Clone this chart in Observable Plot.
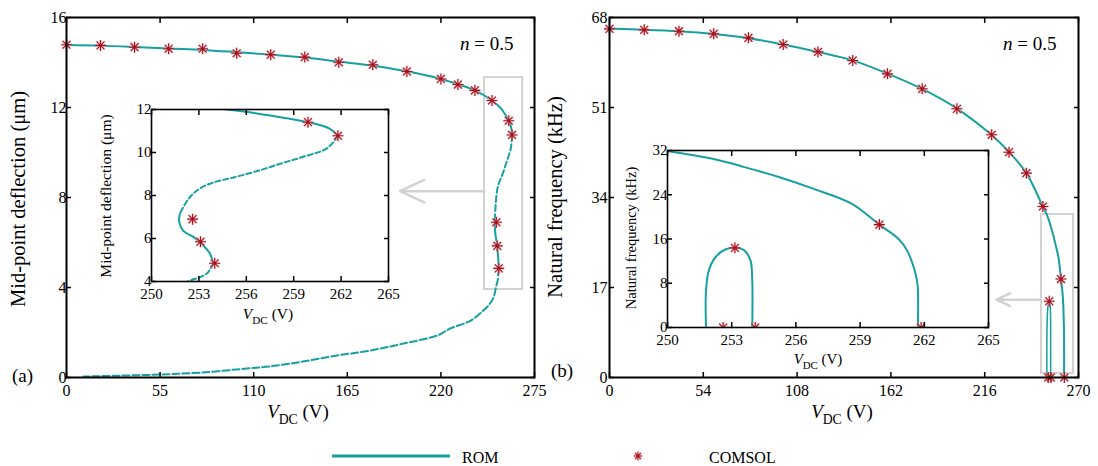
<!DOCTYPE html>
<html><head><meta charset="utf-8">
<script src="https://cdn.jsdelivr.net/npm/d3@7"></script>
<script src="https://cdn.jsdelivr.net/npm/@observablehq/plot@0.6"></script>
<style>
body{margin:0;background:#fff;}
#root{position:relative;width:1098px;height:466px;overflow:hidden;background:#fff;}
#root svg{position:absolute;}
</style></head><body><div id="root"></div>
<script>
// ---------- Panel (a): mid-point deflection (µm) vs V_DC (V) ----------
const romA_stable1_V = [0, 20, 40, 60, 80, 100, 120, 140, 160, 180, 200, 220, 230, 240, 250, 254.8, 256.2, 257.5, 259.9, 261.3, 261.8];
const romA_stable1_W = [14.78, 14.75, 14.69, 14.62, 14.56, 14.46, 14.35, 14.22, 14.04, 13.86, 13.61, 13.27, 13.03, 12.76, 12.31, 12.0, 11.87, 11.72, 11.41, 11.1, 10.76];
const romA_unstable1_V = [261.8, 261.1, 259.6, 258.2, 256.8, 255.2, 253.9, 253.0, 252.3, 251.8];
const romA_unstable1_W = [10.76, 10.19, 9.8, 9.49, 9.16, 8.84, 8.6, 8.3, 7.8, 7.16];
const romA_stable2_V = [251.8, 251.75, 252.0, 252.7, 253.1, 253.7, 253.9];
const romA_stable2_W = [7.16, 6.8, 6.37, 6.05, 5.8, 5.3, 4.84];
const romA_unstable2_V = [253.9, 253.5, 252.3, 251.0, 248.5, 245, 237.5, 225.6, 218, 198, 178.6, 159, 139, 120, 106, 79, 54, 30, 10];
const romA_unstable2_W = [4.84, 4.37, 4.0, 3.56, 3.25, 2.98, 2.53, 2.18, 1.87, 1.51, 1.2, 0.98, 0.71, 0.5, 0.4, 0.22, 0.13, 0.08, 0.04];
const comsolA_V = [0, 20, 40, 60, 80, 100, 120, 140, 160, 180, 200, 220, 230, 240, 250, 259.9, 261.8, 252.6, 253.1, 254.0];
const comsolA_W = [14.79, 14.76, 14.68, 14.61, 14.61, 14.41, 14.35, 14.24, 14.01, 13.9, 13.6, 13.27, 13.02, 12.76, 12.31, 11.41, 10.78, 6.9, 5.85, 4.85];

// ---------- Panel (b): natural frequency (kHz) vs V_DC (V) ----------
const romB_upper_V = [0, 20, 40, 60, 80, 100, 120, 140, 160, 180, 200, 220, 230, 240, 250, 252.1, 253.6, 255.2, 256.8, 258.6, 259.9, 260.8, 261.2, 261.55, 261.68, 261.7];
const romB_upper_F = [65.9, 65.7, 65.4, 64.9, 64.1, 62.9, 61.5, 59.9, 57.4, 54.5, 50.8, 45.8, 42.6, 38.6, 31.9, 30.5, 29.0, 27.2, 25.1, 22.4, 18.6, 16.0, 13.9, 10.3, 7.9, 0];
const romB_arch_V = [251.8, 251.8, 251.93, 252.24, 252.7, 253.15, 253.6, 253.88, 253.96, 253.96];
const romB_arch_F = [0, 6.7, 10.3, 12.7, 14.1, 14.4, 13.9, 12.1, 8.5, 0];
const comsolB_V = [0, 20, 40, 60, 80, 100, 120, 140, 160, 180, 200, 220, 230, 240, 249.5, 259.9, 253.15, 252.6, 254.1, 261.85];
const comsolB_F = [65.86, 65.67, 65.41, 64.91, 64.16, 62.9, 61.5, 59.88, 57.36, 54.53, 50.75, 45.84, 42.56, 38.6, 32.3, 18.6, 14.4, 0, 0, 0];

// ---------- ticks ----------
const ticksA_x = [0, 55, 110, 165, 220, 275];
const ticksA_y = [0, 4, 8, 12, 16];
const ticksB_x = [0, 54, 108, 162, 216, 270];
const ticksB_y = [0, 17, 34, 51, 68];
const ticksInset_x = [250, 253, 256, 259, 262, 265];
const ticksInsetA_y = [4, 6, 8, 10, 12];
const ticksInsetB_y = [0, 8, 16, 24, 32];

// ---------- zoom-box annotations (data coords) ----------
const boxA = [{x1: 245.6, x2: 268, y1: 3.91, y2: 13.33}];
const arrowA = [{x1: 245.6, y1: 8.28, x2: 196, y2: 8.28}];
const boxB = [{x1: 248.7, x2: 267.1, y1: 0.76, y2: 30.8}];
const arrowB = [{x1: 248.7, y1: 14.7, x2: 222.8, y2: 14.7}];

const TEAL = "#18a0a0", RED = "#a8101c", HALO = "#eaa8ad", GRAY = "#d2d2d0";
const FONT = "'Liberation Serif','Times New Roman',serif";
const zip = (xs, ys) => xs.map((x, i) => ({x, y: ys[i]}));

const starSymbol = {draw(ctx, size) {
  const r = Math.sqrt(size / Math.PI), d = r * 0.72;
  ctx.moveTo(-r, 0); ctx.lineTo(r, 0);
  ctx.moveTo(0, -r); ctx.lineTo(0, r);
  ctx.moveTo(-d, -d); ctx.lineTo(d, d);
  ctx.moveTo(-d, d); ctx.lineTo(d, -d);
}};

function stars(data, clip) {
  return [
    Plot.dot(data, {x: "x", y: "y", symbol: starSymbol, r: 5.5, stroke: HALO, strokeWidth: 2.6, strokeOpacity: 0.5, clip}),
    Plot.dot(data, {x: "x", y: "y", symbol: starSymbol, r: 5.5, stroke: RED, strokeWidth: 1.1, clip})
  ];
}
const CURVE = "catmull-rom";
function solid(data, clip, w = 2) { return Plot.line(data, {x: "x", y: "y", stroke: TEAL, strokeWidth: w, curve: CURVE, clip}); }
function dashed(data, clip, w = 2, dash = "6,3") { return Plot.line(data, {x: "x", y: "y", stroke: TEAL, strokeWidth: w, strokeDasharray: dash, curve: CURVE, clip}); }

function axes(xt, yt, fs, yPad, frameW) {
  return [
    Plot.frame({stroke: "#000", strokeWidth: frameW}),
    Plot.axisX(xt, {anchor: "bottom", tickSize: -5, tickPadding: 12, label: null, fontSize: fs, strokeWidth: 1.5}),
    Plot.axisX(xt, {anchor: "top", tickSize: -5, tickFormat: () => "", label: null, strokeWidth: 1.5}),
    Plot.axisY(yt, {anchor: "left", tickSize: -5, tickPadding: yPad + 5, label: null, fontSize: fs, strokeWidth: 1.5}),
    Plot.axisY(yt, {anchor: "right", tickSize: -5, tickFormat: () => "", label: null, strokeWidth: 1.5})
  ];
}
const style = fs => ({fontFamily: FONT, fontSize: fs + "px", background: "transparent", overflow: "visible", color: "#000"});

const root = document.getElementById("root");
function place(svg, left, top) { svg.style.left = left + "px"; svg.style.top = top + "px"; root.appendChild(svg); }

// ---- main (a)
const plotA = Plot.plot({
  width: 549, height: 430, marginLeft: 66, marginRight: 15, marginTop: 17, marginBottom: 53,
  style: style(16), x: {domain: [0, 275]}, y: {domain: [0, 16]},
  marks: [
    Plot.rect(boxA, {x1: "x1", x2: "x2", y1: "y1", y2: "y2", stroke: GRAY, strokeWidth: 2, fill: "none"}),
    Plot.arrow(arrowA, {x1: "x1", y1: "y1", x2: "x2", y2: "y2", stroke: GRAY, strokeWidth: 2.5, headLength: 16, headAngle: 50}),
    solid(zip(romA_stable1_V, romA_stable1_W)),
    dashed(zip(romA_unstable1_V, romA_unstable1_W)),
    solid(zip(romA_stable2_V, romA_stable2_W)),
    dashed(zip(romA_unstable2_V, romA_unstable2_W), false, 2, "7,3"),
    ...stars(zip(comsolA_V, comsolA_W)),
    ...axes(ticksA_x, ticksA_y, 16, 0, 2)
  ]
});
place(plotA, 0, 0);

// ---- main (b)
const plotB = Plot.plot({
  width: 549, height: 430, marginLeft: 60, marginRight: 20, marginTop: 17, marginBottom: 53,
  style: style(16), x: {domain: [0, 270]}, y: {domain: [0, 68]},
  marks: [
    Plot.rect(boxB, {x1: "x1", x2: "x2", y1: "y1", y2: "y2", stroke: GRAY, strokeWidth: 2, fill: "none"}),
    Plot.arrow(arrowB, {x1: "x1", y1: "y1", x2: "x2", y2: "y2", stroke: GRAY, strokeWidth: 2.5, headLength: 16, headAngle: 50}),
    solid(zip(romB_upper_V, romB_upper_F)),
    solid(zip(romB_arch_V, romB_arch_F), false, 1.5),
    ...stars(zip(comsolB_V, comsolB_F)),
    ...axes(ticksB_x, ticksB_y, 16, 2, 2)
  ]
});
place(plotB, 549, 0);

// ---- inset (a)
const insetA = Plot.plot({
  width: 340, height: 240, marginLeft: 91, marginRight: 12, marginTop: 14, marginBottom: 54,
  style: style(15), x: {domain: [250, 265]}, y: {domain: [4, 12]},
  marks: [
    Plot.frame({fill: "#fff"}),
    solid(zip(romA_stable1_V, romA_stable1_W), true),
    dashed(zip(romA_unstable1_V, romA_unstable1_W), true, 2, "5,3"),
    solid(zip(romA_stable2_V, romA_stable2_W), true),
    dashed(zip(romA_unstable2_V, romA_unstable2_W), true, 2, "5,3"),
    ...stars(zip(comsolA_V, comsolA_W), true),
    ...axes(ticksInset_x, ticksInsetA_y, 15, 0, 1.6)
  ]
});
place(insetA, 60, 95);

// ---- inset (b)
const insetB = Plot.plot({
  width: 400, height: 240, marginLeft: 67, marginRight: 12, marginTop: 15, marginBottom: 48,
  style: style(15), x: {domain: [250, 265]}, y: {domain: [0, 32]},
  marks: [
    Plot.frame({fill: "#fff"}),
    solid(zip(romB_upper_V, romB_upper_F), true),
    solid(zip(romB_arch_V, romB_arch_F), true),
    ...stars(zip(comsolB_V, comsolB_F), true),
    ...axes(ticksInset_x, ticksInsetB_y, 15, 0, 1.6)
  ]
});
place(insetB, 600, 135);

// ---- overlay text & legend
const ov = d3.select(root).append("svg").attr("width", 1098).attr("height", 466)
  .style("left", "0px").style("top", "0px").style("font-family", FONT).style("pointer-events", "none");

function vdc(x, y, fs) {
  const t = ov.append("text").attr("x", x).attr("y", y).attr("text-anchor", "middle").attr("font-size", fs);
  t.append("tspan").attr("font-style", "italic").text("V");
  t.append("tspan").attr("font-size", fs * 0.72).attr("dy", fs * 0.3).text("DC");
  t.append("tspan").attr("dy", -fs * 0.3).text(" (V)");
}
function ylab(x, y, fs, s) {
  ov.append("text").attr("transform", `translate(${x},${y}) rotate(-90)`).attr("text-anchor", "middle").attr("font-size", fs).text(s);
}
function nLabel(x, y) {
  const t = ov.append("text").attr("x", x).attr("y", y).attr("font-size", 19);
  t.append("tspan").attr("font-style", "italic").text("n");
  t.append("tspan").text(" = 0.5");
}
ylab(25, 199, 20.5, "Mid-point deflection (μm)");
ylab(562, 197, 20.5, "Natural frequency (kHz)");
ylab(111, 196, 15.5, "Mid-point deflection (μm)");
ylab(636, 238, 14.5, "Natural frequency (kHz)");
vdc(298, 418, 19);
vdc(842, 418, 19);
vdc(268, 319, 15.5);
vdc(818, 364, 15);
nLabel(460, 50);
nLabel(1003, 50);
ov.append("text").attr("x", 12).attr("y", 382).attr("font-size", 19).text("(a)");
ov.append("text").attr("x", 551).attr("y", 377).attr("font-size", 19).text("(b)");

// legend
ov.append("line").attr("x1", 332).attr("x2", 450).attr("y1", 456).attr("y2", 456).attr("stroke", TEAL).attr("stroke-width", 3);
ov.append("text").attr("x", 462).attr("y", 463).attr("font-size", 16).text("ROM");
const starPath = d3.path(); starSymbol.draw(starPath, Math.PI * 4.2 * 4.2);
ov.append("path").attr("transform", "translate(638,456)").attr("d", starPath.toString()).attr("stroke", HALO).attr("stroke-width", 2.6).attr("stroke-opacity", 0.5).attr("fill", "none");
ov.append("path").attr("transform", "translate(638,456)").attr("d", starPath.toString()).attr("stroke", RED).attr("stroke-width", 1.1).attr("fill", "none");
ov.append("text").attr("x", 709).attr("y", 463).attr("font-size", 16).text("COMSOL");
</script></body></html>
